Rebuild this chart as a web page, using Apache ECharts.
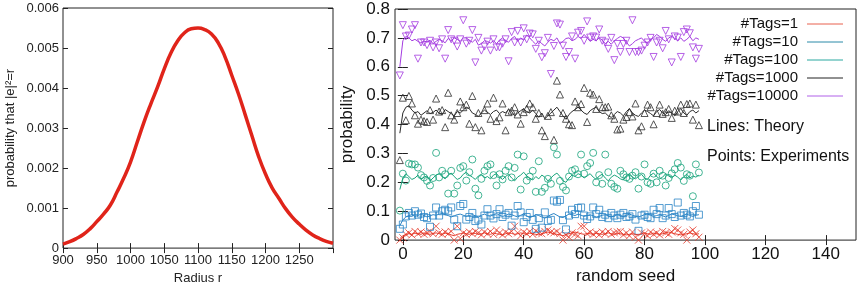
<!DOCTYPE html>
<html>
<head>
<meta charset="utf-8">
<script src="https://cdn.jsdelivr.net/npm/echarts@6/dist/echarts.min.js"></script>
<style>
  html, body { margin: 0; padding: 0; background: #fff; }
  #chart { width: 860px; height: 290px; }
</style>
</head>
<body>
<div id="chart"></div>
<script>
// left panel: probability vs radius
const radius = [900, 910, 920, 930, 940, 950, 960, 970, 980, 990, 1000, 1010, 1020, 1030, 1040, 1050, 1060, 1070, 1080, 1090,
  1100, 1110, 1120, 1130, 1140, 1150, 1160, 1170, 1180, 1190, 1200, 1210, 1220, 1230, 1240, 1250, 1260, 1270, 1280, 1290, 1300];
const radiusProb = [0.00010, 0.00016, 0.00024, 0.00034, 0.00048, 0.00066, 0.00085, 0.00107, 0.00140, 0.00175,
  0.00215, 0.00265, 0.00315, 0.00360, 0.00402, 0.00448, 0.00488, 0.00518, 0.00538, 0.00548,
  0.00550, 0.00546, 0.00535, 0.00513, 0.00478, 0.00432, 0.00385, 0.00333, 0.00280, 0.00228,
  0.00185, 0.00150, 0.00124, 0.00098, 0.00077, 0.00060, 0.00045, 0.00033, 0.00024, 0.00017, 0.00012];

// right panel: probability vs random seed
const tagNames = ["#Tags=1", "#Tags=10", "#Tags=100", "#Tags=1000", "#Tags=10000"];
const seedTicks = [0, 20, 40, 60, 80, 100, 120, 140];

const theory1 = [0.005,0.015,0.020,0.022,0.020,0.024,0.022,0.020,0.025,0.022,0.020,0.023,0.025,0.022,0.020,0.024,0.022,0.018,0.015,0.020,
  0.022,0.025,0.022,0.020,0.024,0.023,0.020,0.022,0.025,0.022,0.020,0.024,0.022,0.020,0.018,0.022,0.025,0.023,0.020,0.022,
  0.025,0.022,0.020,0.024,0.022,0.020,0.018,0.022,0.025,0.028,0.025,0.022,0.020,0.018,0.015,0.020,0.022,0.025,0.028,0.025,
  0.022,0.020,0.023,0.022,0.020,0.024,0.022,0.020,0.022,0.025,0.022,0.020,0.023,0.022,0.020,0.018,0.020,0.022,0.020,0.018,
  0.022,0.025,0.022,0.020,0.024,0.022,0.020,0.022,0.025,0.028,0.025,0.022,0.020,0.018,0.020,0.022,0.025,0.022,0.020,0.022];
const theory10 = [0.050,0.070,0.080,0.085,0.088,0.082,0.085,0.090,0.085,0.080,0.084,0.088,0.086,0.090,0.092,0.088,0.085,0.080,0.084,0.088,
  0.090,0.086,0.082,0.085,0.088,0.084,0.080,0.086,0.090,0.085,0.083,0.088,0.092,0.086,0.082,0.085,0.090,0.088,0.084,0.080,
  0.086,0.090,0.084,0.078,0.082,0.088,0.085,0.080,0.076,0.082,0.088,0.092,0.086,0.080,0.078,0.084,0.090,0.088,0.085,0.090,
  0.086,0.082,0.085,0.088,0.084,0.080,0.082,0.086,0.088,0.084,0.080,0.084,0.088,0.085,0.082,0.086,0.090,0.086,0.082,0.080,
  0.084,0.088,0.090,0.086,0.082,0.085,0.088,0.084,0.080,0.086,0.090,0.088,0.084,0.082,0.086,0.090,0.085,0.082,0.086,0.088];
const theory100 = [0.175,0.215,0.230,0.220,0.210,0.215,0.225,0.210,0.218,0.222,0.205,0.215,0.225,0.230,0.220,0.212,0.225,0.232,0.220,0.210,
  0.215,0.228,0.235,0.225,0.218,0.210,0.222,0.228,0.215,0.220,0.212,0.225,0.230,0.218,0.210,0.220,0.228,0.215,0.205,0.218,
  0.225,0.235,0.222,0.215,0.208,0.220,0.212,0.225,0.218,0.205,0.215,0.225,0.232,0.220,0.205,0.200,0.215,0.225,0.220,0.230,
  0.225,0.215,0.222,0.230,0.218,0.210,0.222,0.228,0.215,0.205,0.218,0.225,0.220,0.212,0.208,0.222,0.230,0.218,0.212,0.220,
  0.228,0.215,0.210,0.225,0.232,0.220,0.212,0.218,0.230,0.222,0.215,0.225,0.218,0.208,0.220,0.228,0.215,0.222,0.218,0.225];
const theory1000 = [0.370,0.440,0.460,0.465,0.450,0.440,0.445,0.432,0.440,0.448,0.438,0.442,0.450,0.440,0.435,0.452,0.445,0.438,0.430,0.445,
  0.440,0.450,0.460,0.455,0.440,0.435,0.428,0.440,0.450,0.442,0.435,0.445,0.450,0.438,0.445,0.440,0.452,0.445,0.430,0.440,
  0.448,0.455,0.445,0.440,0.450,0.438,0.425,0.440,0.420,0.430,0.440,0.450,0.460,0.445,0.430,0.418,0.435,0.445,0.452,0.460,
  0.450,0.440,0.435,0.448,0.455,0.460,0.445,0.438,0.440,0.430,0.425,0.435,0.445,0.440,0.430,0.445,0.455,0.440,0.432,0.428,
  0.440,0.450,0.445,0.438,0.430,0.445,0.452,0.440,0.435,0.448,0.440,0.430,0.445,0.455,0.440,0.432,0.445,0.450,0.440,0.448];
const theory10000 = [0.600,0.690,0.705,0.700,0.690,0.695,0.688,0.682,0.690,0.685,0.692,0.680,0.688,0.695,0.690,0.683,0.698,0.690,0.700,0.695,
  0.688,0.700,0.700,0.692,0.685,0.695,0.675,0.680,0.690,0.688,0.682,0.690,0.680,0.692,0.700,0.690,0.685,0.698,0.705,0.688,
  0.700,0.692,0.710,0.700,0.688,0.678,0.690,0.680,0.672,0.685,0.695,0.690,0.700,0.680,0.688,0.698,0.700,0.690,0.695,0.705,
  0.698,0.712,0.700,0.688,0.695,0.690,0.700,0.692,0.680,0.688,0.678,0.690,0.698,0.705,0.700,0.685,0.672,0.680,0.690,0.695,
  0.700,0.688,0.682,0.695,0.700,0.712,0.705,0.695,0.688,0.700,0.705,0.698,0.690,0.700,0.688,0.695,0.705,0.690,0.700,0.695];

const exp1 = [0.000,0.008,0.020,0.025,0.018,0.030,0.022,0.028,0.020,0.025,0.030,0.022,0.048,0.025,0.020,0.028,0.022,0.030,0.000,0.048,
  0.005,0.025,0.020,0.028,0.022,0.030,0.025,0.018,0.028,0.022,0.030,0.020,0.035,0.025,0.018,0.028,0.022,0.030,0.048,0.025,
  0.015,0.028,0.022,0.030,0.020,0.032,0.025,0.022,0.030,0.035,0.028,0.025,0.030,0.022,0.000,0.018,0.010,0.025,0.020,0.015,
  0.048,0.048,0.022,0.028,0.020,0.025,0.018,0.028,0.022,0.030,0.020,0.025,0.028,0.030,0.018,0.025,0.015,0.028,0.010,0.000,
  0.025,0.022,0.015,0.028,0.020,0.025,0.018,0.030,0.025,0.020,0.028,0.040,0.035,0.025,0.020,0.000,0.028,0.035,0.022,0.010];
const exp10 = [0.039,0.054,0.082,0.094,0.085,0.100,0.088,0.092,0.080,0.076,0.046,0.085,0.113,0.085,0.100,0.105,0.100,0.113,0.071,0.048,
  0.118,0.125,0.071,0.080,0.094,0.066,0.071,0.054,0.085,0.107,0.085,0.075,0.090,0.107,0.080,0.088,0.094,0.050,0.085,0.118,
  0.096,0.062,0.080,0.094,0.070,0.039,0.076,0.043,0.096,0.066,0.070,0.137,0.133,0.139,0.069,0.037,0.085,0.105,0.090,0.111,
  0.113,0.085,0.073,0.082,0.113,0.090,0.105,0.080,0.088,0.076,0.094,0.085,0.076,0.088,0.094,0.080,0.082,0.090,0.071,0.032,
  0.085,0.088,0.080,0.076,0.105,0.090,0.111,0.076,0.085,0.111,0.090,0.080,0.130,0.085,0.094,0.088,0.082,0.100,0.118,0.088];
const exp100 = [0.102,0.230,0.206,0.265,0.262,0.262,0.251,0.225,0.217,0.205,0.189,0.215,0.302,0.217,0.240,0.228,0.161,0.240,0.161,0.189,
  0.250,0.256,0.206,0.235,0.279,0.178,0.155,0.212,0.240,0.256,0.262,0.225,0.189,0.228,0.210,0.240,0.256,0.217,0.250,0.296,
  0.175,0.290,0.206,0.220,0.240,0.167,0.273,0.167,0.181,0.212,0.195,0.321,0.296,0.205,0.184,0.172,0.220,0.240,0.245,0.228,
  0.296,0.230,0.256,0.267,0.302,0.200,0.225,0.195,0.296,0.235,0.195,0.184,0.178,0.240,0.228,0.217,0.212,0.223,0.235,0.178,
  0.220,0.262,0.200,0.195,0.230,0.200,0.240,0.223,0.189,0.215,0.231,0.245,0.267,0.251,0.205,0.228,0.223,0.152,0.262,0.234];
const exp1000 = [0.277,0.493,0.415,0.499,0.473,0.432,0.403,0.417,0.412,0.409,0.450,0.417,0.490,0.445,0.450,0.391,0.510,0.432,0.417,0.440,
  0.480,0.460,0.469,0.403,0.499,0.391,0.440,0.380,0.450,0.473,0.420,0.493,0.412,0.425,0.473,0.380,0.443,0.448,0.460,0.435,
  0.403,0.443,0.455,0.473,0.460,0.420,0.440,0.380,0.360,0.430,0.443,0.347,0.552,0.504,0.440,0.420,0.401,0.398,0.480,0.460,
  0.471,0.527,0.409,0.510,0.504,0.454,0.488,0.460,0.460,0.462,0.432,0.420,0.383,0.386,0.417,0.426,0.443,0.428,0.473,0.380,
  0.394,0.440,0.469,0.460,0.401,0.440,0.469,0.437,0.443,0.454,0.423,0.448,0.445,0.469,0.440,0.471,0.473,0.417,0.469,0.398];
const exp10000 = [0.570,0.744,0.705,0.708,0.729,0.744,0.628,0.684,0.684,0.675,0.690,0.667,0.684,0.664,0.695,0.628,0.727,0.695,0.690,0.670,
  0.695,0.761,0.680,0.690,0.727,0.615,0.700,0.656,0.670,0.687,0.656,0.695,0.667,0.667,0.680,0.695,0.619,0.720,0.684,0.724,
  0.684,0.733,0.695,0.715,0.712,0.662,0.690,0.633,0.647,0.700,0.575,0.672,0.750,0.746,0.673,0.634,0.651,0.705,0.628,0.718,
  0.724,0.690,0.757,0.701,0.705,0.701,0.729,0.690,0.684,0.662,0.700,0.623,0.679,0.651,0.679,0.690,0.651,0.761,0.651,0.651,
  0.656,0.673,0.684,0.700,0.634,0.684,0.690,0.664,0.724,0.695,0.615,0.705,0.701,0.634,0.720,0.729,0.716,0.667,0.628,0.662];

const theory = [theory1, theory10, theory100, theory1000, theory10000];
const experiments = [exp1, exp10, exp100, exp1000, exp10000];
const colors = ["#e53a2a", "#2a84c6", "#16a37a", "#2a2a2a", "#a43be0"];
const legendLine = ["#e8604e", "#2a8aa8", "#2aa8a0", "#222222", "#b060e8"];
const symbols = [
  "path://M0,0L10,10M10,0L0,10",
  "rect",
  "circle",
  "triangle",
  "path://M0,0L10,0L5,9Z"
];

const chart = echarts.init(document.getElementById("chart"));

// seeds start one left of zero in the original plot
const pairs = (arr) => arr.map((v, i) => [i - 1, v]);

const frameAxis = (extra) => Object.assign({
  axisLine: { show: false },
  splitLine: { show: false },
  axisTick: { inside: true, length: 5, lineStyle: { color: "#222" } },
}, extra);

const leftFont = { fontFamily: "Liberation Sans", fontSize: 13, color: "#222" };
const rightFont = { fontFamily: "Liberation Sans", fontSize: 17, color: "#111" };
const textFont = "16px 'Liberation Sans'";

const series = [
  {
    type: "line", xAxisIndex: 0, yAxisIndex: 0,
    data: radius.map((r, i) => [r, radiusProb[i]]),
    smooth: true, showSymbol: false,
    lineStyle: { color: "#e0241a", width: 3.5 },
    silent: true,
  },
];
theory.forEach((t, k) => {
  series.push({
    type: "line", xAxisIndex: 2, yAxisIndex: 2,
    data: pairs(t), showSymbol: false,
    lineStyle: { color: colors[k], width: 1 },
    silent: true,
  });
  series.push({
    type: "scatter", xAxisIndex: 2, yAxisIndex: 2,
    data: pairs(experiments[k]),
    symbol: symbols[k], symbolSize: 7,
    itemStyle: { color: "rgba(0,0,0,0)", borderColor: colors[k], borderWidth: 1 },
    silent: true,
  });
});

const graphics = [];
tagNames.forEach((name, k) => {
  const y = 24 + k * 18;
  graphics.push({
    type: "text", x: 798, y: y,
    style: { text: name, align: "right", verticalAlign: "middle", font: "15px 'Liberation Sans'", fill: "#111" },
  });
  graphics.push({
    type: "line", shape: { x1: 807, y1: y, x2: 843, y2: y },
    style: { stroke: legendLine[k], lineWidth: 1 },
  });
});
graphics.push({
  type: "text", x: 707, y: 127,
  style: { text: "Lines: Theory", verticalAlign: "middle", font: textFont, fill: "#111" },
});
graphics.push({
  type: "text", x: 707, y: 157,
  style: { text: "Points: Experiments", verticalAlign: "middle", font: textFont, fill: "#111" },
});

chart.setOption({
  animation: false,
  grid: [
    { left: 63, top: 8, width: 270, height: 242, show: true, borderColor: "#222", borderWidth: 1 },
    { left: 395, top: 9, width: 461, height: 237, show: true, borderColor: "#222", borderWidth: 1 },
  ],
  xAxis: [
    frameAxis({
      gridIndex: 0, type: "value", min: 900, max: 1300, interval: 50,
      axisLabel: Object.assign({ showMaxLabel: false, margin: 6, formatter: (v) => String(v) }, leftFont),
      name: "Radius r", nameLocation: "middle", nameGap: 21,
      nameTextStyle: leftFont,
    }),
    frameAxis({
      gridIndex: 0, type: "value", position: "top", min: 900, max: 1300, interval: 50,
      axisLabel: { show: false },
    }),
    frameAxis({
      gridIndex: 1, type: "value", min: -2.6, max: 150,
      axisTick: { inside: true, length: 5, customValues: seedTicks, lineStyle: { color: "#222" } },
      axisLabel: Object.assign({ customValues: seedTicks, margin: 6 }, rightFont),
      name: "random seed", nameLocation: "middle", nameGap: 23,
      nameTextStyle: rightFont,
    }),
    frameAxis({
      gridIndex: 1, type: "value", position: "top", min: -2.6, max: 150,
      axisTick: { inside: true, length: 5, customValues: seedTicks, lineStyle: { color: "#222" } },
      axisLabel: { show: false },
    }),
  ],
  yAxis: [
    frameAxis({
      gridIndex: 0, type: "value", min: 0, max: 0.006, interval: 0.001,
      axisLabel: Object.assign({ margin: 4 }, leftFont),
      name: "probability that |e|\u00b2=r", nameLocation: "middle", nameGap: 46, nameRotate: 90,
      nameTextStyle: leftFont,
    }),
    frameAxis({
      gridIndex: 0, type: "value", position: "right", min: 0, max: 0.006, interval: 0.001,
      axisLabel: { show: false },
    }),
    frameAxis({
      gridIndex: 1, type: "value", min: 0, max: 0.8, interval: 0.1,
      axisLabel: Object.assign({ margin: 5 }, rightFont),
      name: "probability", nameLocation: "middle", nameGap: 31, nameRotate: 90,
      nameTextStyle: rightFont,
    }),
    frameAxis({
      gridIndex: 1, type: "value", position: "right", min: 0, max: 0.8, interval: 0.1,
      axisLabel: { show: false },
    }),
  ],
  series: series,
  graphic: graphics,
});
</script>
</body>
</html>
